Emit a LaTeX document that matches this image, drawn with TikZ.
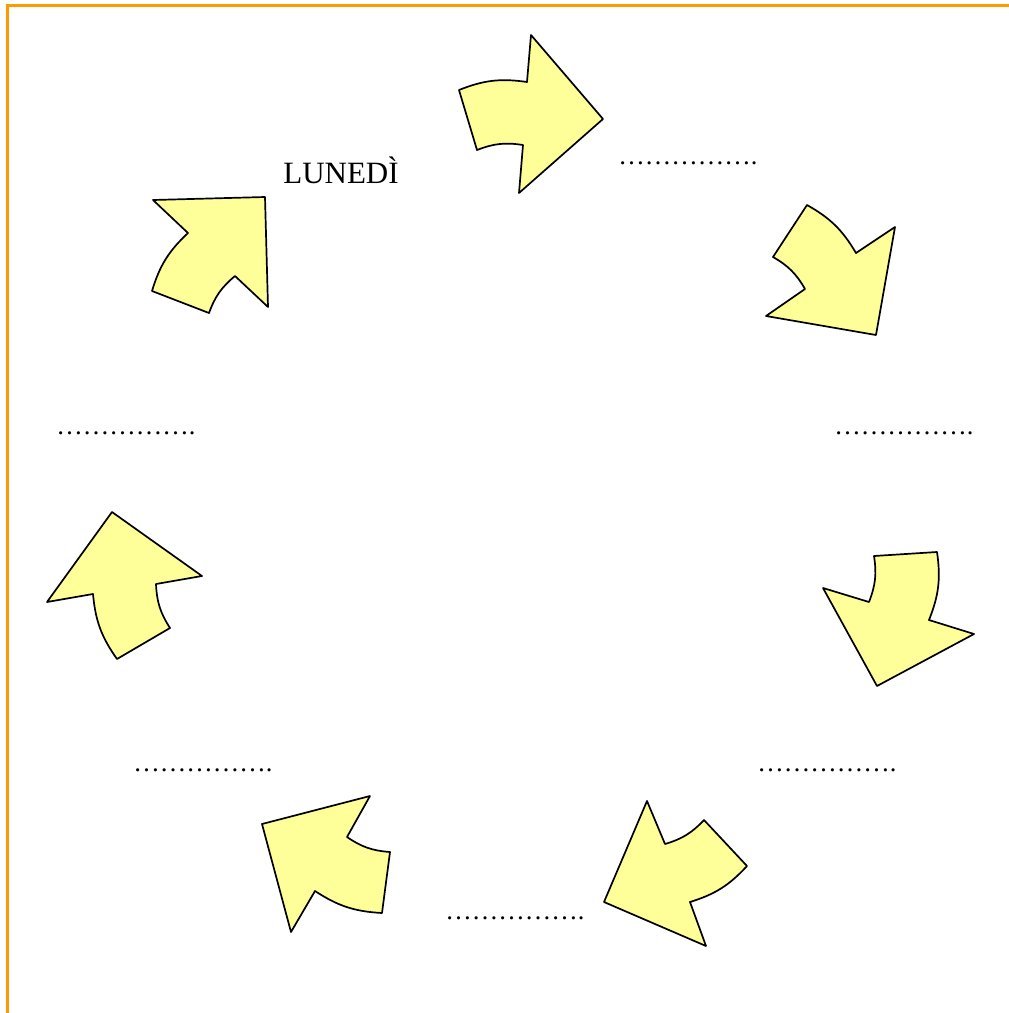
\documentclass[tikz,border=0pt]{standalone}
\usepackage{fontspec}
\setmainfont{Liberation Serif}
\definecolor{arrowfill}{HTML}{FFFF99}
\definecolor{frameorange}{HTML}{FF9900}

\begin{document}
\begin{tikzpicture}[x=1pt,y=1pt,
    dayarrow/.style={draw=black,fill=arrowfill,line width=1.7pt,line join=round},
    dayname/.style={inner sep=0pt,font=\fontsize{31}{34}\selectfont},
    dayblank/.style={inner sep=0pt,font=\fontsize{26.5}{30}\selectfont}]
  \useasboundingbox (0,0) rectangle (1009,-1013);
  % frame
  \draw[frameorange,line width=3pt] (7.5,-1013) -- (7.5,-5.5) -- (1009,-5.5);
  % arrows, clockwise from the top
  \draw[dayarrow] (459,-90) to[bend left=15] (527,-82) -- (531,-35) -- (603,-119)
    -- (519,-193) -- (523,-145) to[bend right=15] (477,-150) -- cycle;
  \draw[dayarrow] (807,-205) to[bend left=15] (856,-253) -- (895,-227) -- (876,-335)
    -- (766,-316) -- (805,-289) to[bend right=15] (773,-257) -- cycle;
  \draw[dayarrow] (937,-552) to[bend left=15] (929,-620) -- (974,-634) -- (877,-686)
    -- (823,-588) -- (869,-602) to[bend right=15] (874,-556) -- cycle;
  \draw[dayarrow] (747,-866) to[bend left=15] (690,-902) -- (706,-946) -- (604,-902)
    -- (647,-801) -- (665,-844) to[bend right=15] (704,-820) -- cycle;
  \draw[dayarrow] (382,-913) to[bend left=15] (315,-891) -- (291,-932) -- (262,-824)
    -- (370,-796) -- (347,-837) to[bend right=15] (390,-852) -- cycle;
  \draw[dayarrow] (117,-659) to[bend left=15] (93,-594) -- (47,-602) -- (112,-512)
    -- (202,-576) -- (156,-584) to[bend right=15] (170,-628) -- cycle;
  \draw[dayarrow] (152,-291) to[bend left=15] (188,-233) -- (153,-200) -- (265,-197)
    -- (268,-307) -- (235,-276) to[bend right=15] (209,-313) -- cycle;
  % days
  \node[dayname,anchor=base] (mon) at (341,-183) {LUNEDÌ};
  \node[dayblank] (tue) at (688,-163) {…………….};
  \node[dayblank] (wed) at (904,-433) {…………….};
  \node[dayblank] (thu) at (827,-770) {…………….};
  \node[dayblank] (fri) at (515,-918) {…………….};
  \node[dayblank] (sat) at (203,-770) {…………….};
  \node[dayblank] (sun) at (126,-433) {…………….};
\end{tikzpicture}
\end{document}
